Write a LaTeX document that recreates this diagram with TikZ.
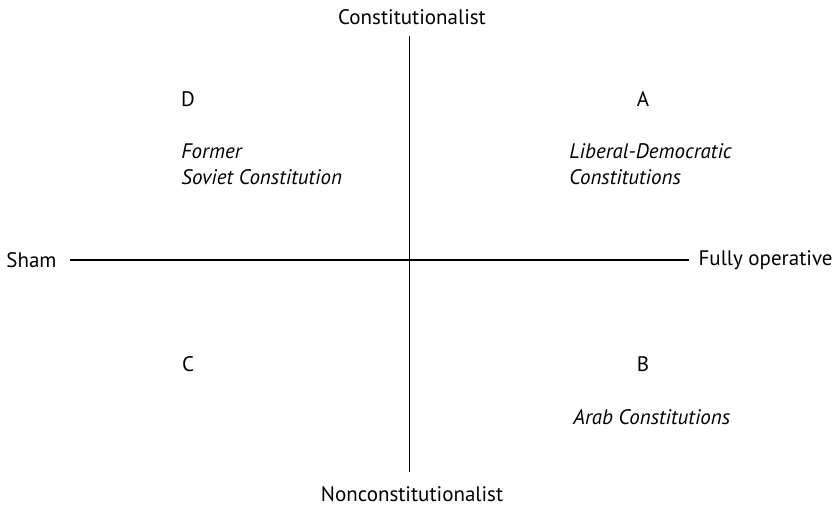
\documentclass[tikz,border=0pt]{standalone}
\usepackage{fontspec}
\setmainfont{PT Sans}
\begin{document}
\begin{tikzpicture}[x=0.5pt,y=-0.5pt,
    every node/.style={font=\fontsize{10.5}{13}\selectfont},
    axislabel/.style={inner sep=0pt},
    quadrant/.style={inner sep=0pt},
    example/.style={inner sep=0pt,align=left,anchor=west,font=\fontsize{10.5}{13}\selectfont\itshape}]
  \useasboundingbox (0,0) rectangle (840,508);
  % Axis labels at the four ends.
  \coordinate (o) at (409.5,260);
  \node[axislabel] (top) at (412,17) {Constitutionalist};
  \node[axislabel] (bottom) at (412,494) {Nonconstitutionalist};
  \node[axislabel,anchor=west] (left) at (6,260) {Sham};
  \node[axislabel,anchor=east] (right) at (833,260) {Fully operative};

  % The two axes.
  \draw[line width=0.6pt,shorten <=6.5pt,shorten >=4.5pt] (left) -- (right);
  \draw[line width=0.6pt,shorten <=5.5pt,shorten >=7pt] (top.south -| o) -- (bottom.north -| o);

  % Quadrant letters.
  \node[quadrant] (qd) at (188,99) {D};
  \node[quadrant] (qa) at (643,99) {A};
  \node[quadrant] (qc) at (188,364) {C};
  \node[quadrant] (qb) at (643,364) {B};

  % Examples in each quadrant.
  \node[example] (soviet) at (181,164) {Former\\Soviet Constitution};
  \node[example] (liberal) at (569,164) {Liberal-Democratic\\Constitutions};
  \node[example] (arab) at (573,417) {Arab Constitutions};
\end{tikzpicture}
\end{document}
